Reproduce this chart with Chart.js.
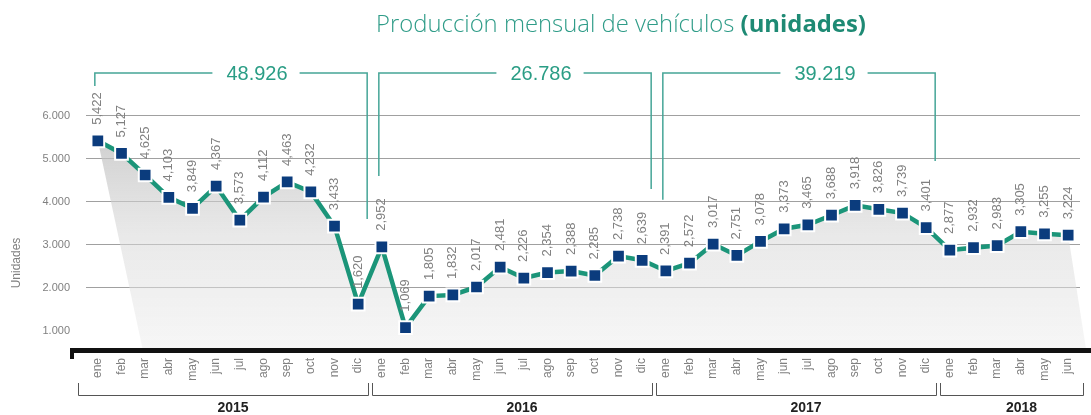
<!DOCTYPE html>
<html>
<head>
<meta charset="utf-8">
<script src="https://cdn.jsdelivr.net/npm/chart.js@4.4.0/dist/chart.umd.min.js"></script>
<style>
  body { margin: 0; background: #fff; }
</style>
</head>
<body>
<canvas id="myChart" width="1091" height="415"></canvas>
<script>
  var months = ['ene', 'feb', 'mar', 'abr', 'may', 'jun', 'jul', 'ago', 'sep', 'oct', 'nov', 'dic'];
  var years = ['2015', '2016', '2017', '2018'];
  var yearMonths = [12, 12, 12, 6];

  var v2015 = [5422, 5127, 4625, 4103, 3849, 4367, 3573, 4112, 4463, 4232, 3433, 1620];
  var v2016 = [2952, 1069, 1805, 1832, 2017, 2481, 2226, 2354, 2388, 2285, 2738, 2639];
  var v2017 = [2391, 2572, 3017, 2751, 3078, 3373, 3465, 3688, 3918, 3826, 3739, 3401];
  var v2018 = [2877, 2932, 2983, 3305, 3255, 3224];

  var totals = ['48.926', '26.786', '39.219'];
  // where the bracket legs stop (in units), left leg / right leg
  var bracketLegs = [[6700, 3600], [4600, 4300], [4050, 4950]];
  var yTicks = [1000, 2000, 3000, 4000, 5000, 6000];

  var teal = '#1b9579';
  var navy = '#0b3c7d';
  var bracketTeal = '#45a597';

  var labels = [];
  for (var i = 0; i < years.length; i++) {
    for (var m = 0; m < yearMonths[i]; m++) {
      labels.push(months[m]);
    }
  }
  var values = v2015.concat(v2016, v2017, v2018);

  function fmtComma(v) {
    return String(v).replace(/\B(?=(\d{3})+(?!\d))/g, ',');
  }
  function fmtDot(v) {
    return String(v).replace(/\B(?=(\d{3})+(?!\d))/g, '.');
  }

  //----------------------------------------extras plugin--------------------------------------//
  const extras = {
    id: 'extras',
    beforeDatasetsDraw(chart) {
      // grey shadow under the line
      var ctx = chart.ctx;
      var pts = chart.getDatasetMeta(0).data;
      var area = chart.chartArea;
      var grad = ctx.createLinearGradient(0, area.top + 50, 0, area.bottom);
      grad.addColorStop(0, 'rgba(185,185,185,0.75)');
      grad.addColorStop(0.5, 'rgba(215,215,215,0.55)');
      grad.addColorStop(1, 'rgba(238,238,238,0.5)');
      ctx.save();
      ctx.beginPath();
      ctx.moveTo(pts[0].x, pts[0].y);
      for (var i = 1; i < pts.length; i++) ctx.lineTo(pts[i].x, pts[i].y);
      ctx.lineTo(pts[pts.length - 1].x + 18, area.bottom);
      ctx.lineTo(pts[0].x + 45, area.bottom);
      ctx.closePath();
      ctx.fillStyle = grad;
      ctx.fill();
      ctx.restore();
    },
    afterDatasetsDraw(chart) {
      // rotated value labels
      var ctx = chart.ctx;
      var pts = chart.getDatasetMeta(0).data;
      ctx.save();
      ctx.font = '13px "Liberation Sans", Arial, sans-serif';
      ctx.fillStyle = '#808080';
      ctx.textAlign = 'left';
      ctx.textBaseline = 'middle';
      for (var i = 0; i < pts.length; i++) {
        ctx.save();
        ctx.translate(pts[i].x, pts[i].y - 16);
        ctx.rotate(-Math.PI / 2);
        ctx.fillText(fmtComma(values[i]), 0, 0);
        ctx.restore();
      }
      ctx.restore();
    },
    afterDraw(chart) {
      var ctx = chart.ctx;
      var pts = chart.getDatasetMeta(0).data;
      var area = chart.chartArea;
      var ys = chart.scales.y;
      ctx.save();

      // title, fitted to the reference width
      var t1 = 'Producción mensual de vehículos ';
      var t2 = '(unidades)';
      var fam = '"Open Sans", "Liberation Sans", Arial, sans-serif';
      ctx.textBaseline = 'middle';
      ctx.textAlign = 'left';
      ctx.font = '300 21px ' + fam;
      var w1 = ctx.measureText(t1).width;
      ctx.font = 'bold 21px ' + fam;
      var w2 = ctx.measureText(t2).width;
      var fs = 21 * 490 / (w1 + w2);
      ctx.font = '300 ' + fs + 'px ' + fam;
      w1 = ctx.measureText(t1).width;
      ctx.font = 'bold ' + fs + 'px ' + fam;
      w2 = ctx.measureText(t2).width;
      var tx = 621 - (w1 + w2) / 2;
      ctx.font = '300 ' + fs + 'px ' + fam;
      ctx.fillStyle = '#2f9c88';
      ctx.fillText(t1, tx, 25);
      ctx.font = 'bold ' + fs + 'px ' + fam;
      ctx.fillStyle = '#1e8a74';
      ctx.fillText(t2, tx + w1, 25);

      // y title
      ctx.save();
      ctx.translate(17, 263);
      ctx.rotate(-Math.PI / 2);
      ctx.textAlign = 'center';
      ctx.font = '12px "Liberation Sans", Arial, sans-serif';
      ctx.fillStyle = '#808080';
      ctx.fillText('Unidades', 0, 0);
      ctx.restore();

      // yearly total brackets
      var topY = ys.getPixelForValue(ys.max);
      var start = 0;
      ctx.font = '20px "Liberation Sans", Arial, sans-serif';
      for (var b = 0; b < totals.length; b++) {
        var end = start + yearMonths[b] - 1;
        var lx = pts[start].x - 3;
        var rx = pts[end].x + 9;
        var cx = (lx + rx) / 2 + 26;
        var tw = ctx.measureText(totals[b]).width;
        ctx.strokeStyle = bracketTeal;
        ctx.lineWidth = 1.5;
        ctx.beginPath();
        ctx.moveTo(lx, ys.getPixelForValue(bracketLegs[b][0]));
        ctx.lineTo(lx, topY);
        ctx.lineTo(cx - tw / 2 - 14, topY);
        ctx.moveTo(cx + tw / 2 + 12, topY);
        ctx.lineTo(rx, topY);
        ctx.lineTo(rx, ys.getPixelForValue(bracketLegs[b][1]));
        ctx.stroke();
        ctx.fillStyle = '#2a9d85';
        ctx.textAlign = 'center';
        ctx.fillText(totals[b], cx, topY + 1);
        start = end + 1;
      }

      // thick black base line
      ctx.fillStyle = '#111';
      ctx.fillRect(70, area.bottom - 2, 1091 - 70, 5);
      ctx.fillRect(70, area.bottom - 2, 4, 11);

      // year brackets under the months
      var yb = 395;
      var half = (pts[1].x - pts[0].x) / 2;
      start = 0;
      ctx.strokeStyle = '#555';
      ctx.lineWidth = 1;
      ctx.font = 'bold 14px "Liberation Sans", Arial, sans-serif';
      ctx.fillStyle = '#222';
      ctx.textAlign = 'center';
      for (var k = 0; k < years.length; k++) {
        var e = start + yearMonths[k] - 1;
        var l = pts[start].x - half + 2;
        var r = pts[e].x + half - 2;
        if (k === 0) l -= 10;
        if (k === years.length - 1) r += 5;
        ctx.beginPath();
        ctx.moveTo(Math.round(l) + 0.5, 383);
        ctx.lineTo(Math.round(l) + 0.5, yb + 0.5);
        ctx.lineTo(Math.round(r) + 0.5, yb + 0.5);
        ctx.lineTo(Math.round(r) + 0.5, 383);
        ctx.stroke();
        ctx.fillText(years[k], (l + r) / 2 + 10, 408);
        start = e + 1;
      }
      ctx.restore();
    }
  };

  //----------------------------------------chart--------------------------------------//
  const data = {
    labels: labels,
    datasets: [{
      label: 'Producción',
      data: values,
      borderColor: teal,
      borderWidth: 4.5,
      tension: 0,
      fill: false,
      pointStyle: 'rect',
      pointRadius: 9,
      pointBackgroundColor: navy,
      pointBorderColor: '#fff',
      pointBorderWidth: 2
    }]
  };

  const myconfig = {
    type: 'line',
    data: data,
    options: {
      responsive: false,
      animation: false,
      devicePixelRatio: 1,
      layout: { padding: { left: 0, right: 11, top: 73, bottom: 0 } },
      plugins: {
        legend: { display: false },
        tooltip: { enabled: false },
        title: { display: false }
      },
      scales: {
        x: {
          offset: true,
          grid: { display: false, drawTicks: false },
          border: { display: false },
          ticks: {
            autoSkip: false,
            maxRotation: 90,
            minRotation: 90,
            padding: 8,
            color: '#808080',
            font: { size: 12, family: '"Liberation Sans", Arial, sans-serif' }
          },
          afterFit: function(scale) { scale.height = 65; }
        },
        y: {
          min: 550,
          max: 7000,
          afterBuildTicks: function(scale) {
            scale.ticks = yTicks.map(function(v) { return { value: v }; });
          },
          grid: {
            drawTicks: false,
            color: function(c) { return c.tick && c.tick.value === 1000 ? 'rgba(0,0,0,0)' : '#a0a0a0'; },
            lineWidth: 1
          },
          border: { display: false },
          ticks: {
            padding: 16,
            color: '#808080',
            font: { size: 11, family: '"Liberation Sans", Arial, sans-serif' },
            callback: function(v) { return fmtDot(v); }
          },
          afterFit: function(scale) { scale.width = 86; }
        }
      }
    },
    plugins: [extras]
  };

  var myChart = new Chart(document.getElementById('myChart'), myconfig);
</script>
</body>
</html>
